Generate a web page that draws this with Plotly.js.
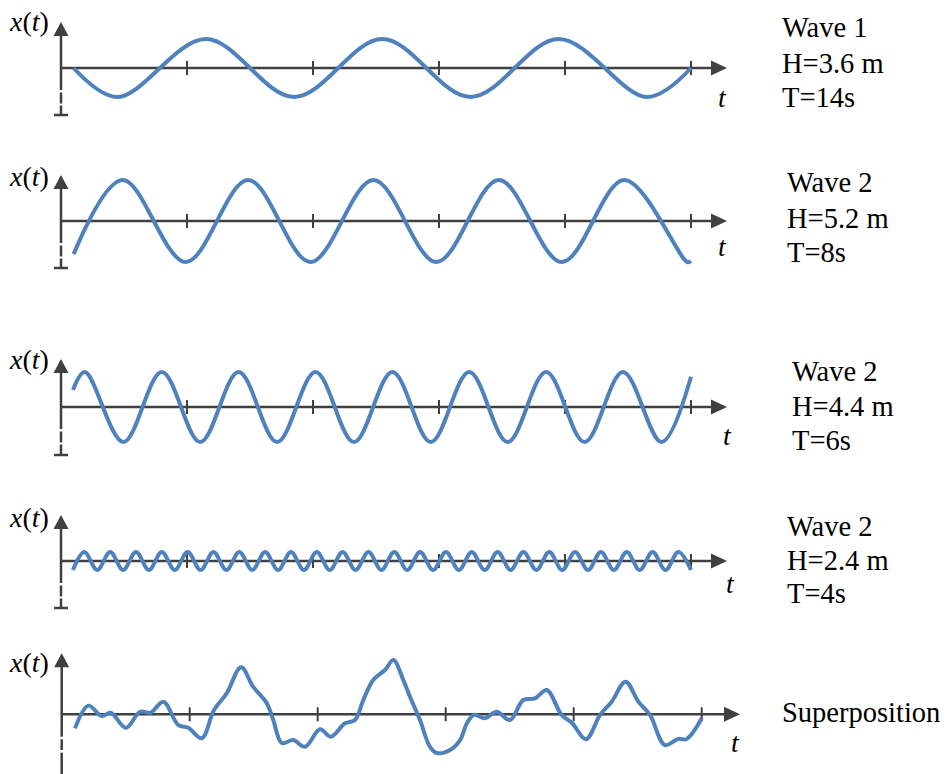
<!DOCTYPE html>
<html>
<head>
<meta charset="utf-8">
<script src="https://cdn.plot.ly/plotly-3.0.1.min.js"></script>
<style>
  html, body { margin: 0; padding: 0; background: #fff; }
  #chart { width: 952px; height: 774px; }
</style>
</head>
<body>
<div id="chart"></div>
<script>
// ---- Wave records: time (s) and surface elevation x(t) (m) at crests, troughs and ends ----
const wave1T = [1, 4.5, 11.5, 18.5, 25.5, 32.5, 39.5, 46.5, 50];
const wave1X = [0, -1.8, 1.8, -1.8, 1.8, -1.8, 1.8, -1.8, 0];

const wave2T = [1, 4.9, 9.9, 14.85, 19.8, 24.8, 29.8, 34.75, 39.75, 44.7, 49.7, 50];
const wave2X = [-2.1, 2.6, -2.6, 2.6, -2.6, 2.6, -2.6, 2.6, -2.6, 2.6, -2.6, -2.55];

const wave3T = [0.95, 1.9, 4.95, 8.0, 11.05, 14.1, 17.15, 20.2, 23.25, 26.3, 29.35, 32.4,
                35.45, 38.5, 41.55, 44.6, 47.65, 50];
const wave3X = [1.07, 2.2, -2.2, 2.2, -2.2, 2.2, -2.2, 2.2, -2.2, 2.2, -2.2, 2.2,
                -2.2, 2.2, -2.2, 2.2, -2.2, 1.9];

const wave4T = [0.95, 1.85, 2.88, 3.9, 4.93, 5.95, 6.98, 8.0, 9.03, 10.05, 11.08, 12.1,
                13.13, 14.15, 15.18, 16.2, 17.23, 18.25, 19.28, 20.3, 21.33, 22.35, 23.38, 24.4,
                25.43, 26.45, 27.48, 28.5, 29.53, 30.55, 31.58, 32.6, 33.63, 34.65, 35.68, 36.7,
                37.73, 38.75, 39.78, 40.8, 41.83, 42.85, 43.88, 44.9, 45.93, 46.95, 47.98, 49.0, 50.0];
const wave4X = [-1.2, 1.2, -1.2, 1.2, -1.2, 1.2, -1.2, 1.2, -1.2, 1.2, -1.2, 1.2,
                -1.2, 1.2, -1.2, 1.2, -1.2, 1.2, -1.2, 1.2, -1.2, 1.2, -1.2, 1.2,
                -1.2, 1.2, -1.2, 1.2, -1.2, 1.2, -1.2, 1.2, -1.2, 1.2, -1.2, 1.2,
                -1.2, 1.2, -1.2, 1.2, -1.2, 1.2, -1.2, 1.2, -1.2, 1.2, -1.2, 1.2, -1.2];

// Superposed record
const superT = [1.04, 2.08, 3.13, 3.83, 5.02, 6.12, 6.95, 7.94, 9.11, 9.89, 10.94, 11.90,
                12.89, 14.01, 14.95, 16.02, 16.53, 17.19, 18.09, 19.01, 20.18, 21.02, 22.13, 22.91,
                23.56, 24.34, 25.26, 25.91, 26.69, 27.21, 27.99, 28.77, 29.32, 30.34, 31.12, 31.66,
                32.21, 33.07, 33.98, 35.02, 36.06, 36.98, 37.89, 39.06, 39.87, 40.96, 42.06, 42.97,
                44.05, 45.05, 45.96, 47.12, 48.17, 48.83, 50.00];
const superX = [-0.88, 0.54, -0.11, 0.10, -0.84, 0.16, 0.10, 0.79, -0.67, -0.84, -1.50, 0.27,
                1.31, 2.94, 1.73, 0.69, -0.36, -1.79, -1.61, -2.03, -0.94, -1.40, -0.56, -0.36,
                0.89, 2.14, 2.77, 3.39, 2.14, 1.10, -0.36, -2.03, -2.42, -2.23, -1.61, -0.56,
                -0.04, -0.25, 0.16, -0.36, 0.89, 1.00, 1.52, -0.04, -0.54, -1.56, -0.04, 0.79,
                2.04, 0.79, -0.04, -1.92, -1.54, -1.54, -0.25];

// Time-axis tick positions (s)
const tickTimes = [10, 20, 30, 40, 50];

// Panel captions
const waveNames   = ["Wave 1", "Wave 2", "Wave 2", "Wave 2"];
const waveHeights = ["H=3.6 m", "H=5.2 m", "H=4.4 m", "H=2.4 m"];
const wavePeriods = ["T=14s", "T=8s", "T=6s", "T=4s"];
const superLabel  = "Superposition";
const yLabel = "<i>x</i>(<i>t</i>)";
const tLabel = "<i>t</i>";

// ---- Geometry ----
const W = 952, H = 774;
const SERIF = "Liberation Serif, Times New Roman, serif";
const AXIS_COLOR = "#404040";
const WAVE_COLOR = "#4f81bd";

// origin pixel, px per second, arrow tip pixel for the two time axes
const xAxes = {
  x:  { origin: 61,   pps: 12.6, tip: 727 },
  x2: { origin: 61.7, pps: 12.8, tip: 740 }
};

// per panel: time axis, zero-line pixel, px per metre, arrow height above zero,
// vertical axis pieces (pixels relative to the zero line), end bar, label spots
const panels = [
  { xa: 'x',  ya: 'y',  zero: 68,    ppm: 16.1,  up: 46, segs: [[-22, 33], [-24.5, -35.5], [-37.5, -47]], bar: -47,
    t: wave1T, v: wave1X, tLab: [722, 98],  yLab: [29, 21],  capX: 780, capY: [28, 63, 98] },
  { xa: 'x',  ya: 'y2', zero: 221,   ppm: 15.77, up: 46, segs: [[-22, 33], [-24.5, -35.5], [-37.5, -47]], bar: -47,
    t: wave2T, v: wave2X, tLab: [722, 246], yLab: [29, 177], capX: 785, capY: [183, 218, 252] },
  { xa: 'x',  ya: 'y3', zero: 407,   ppm: 15.91, up: 48, segs: [[-22, 35], [-24.5, -35.5], [-37.5, -48]], bar: -48,
    t: wave3T, v: wave3X, tLab: [727, 435], yLab: [29, 360], capX: 790, capY: [371, 406, 440] },
  { xa: 'x',  ya: 'y4', zero: 561,   ppm: 7.5,   up: 46, segs: [[-22, 33], [-24.5, -35.5], [-37.5, -47]], bar: -47,
    t: wave4T, v: wave4X, tLab: [730, 583], yLab: [29, 517], capX: 785, capY: [526, 560, 593] },
  { xa: 'x2', ya: 'y5', zero: 714.3, ppm: 16,    up: 61, segs: [[-22.4, 48], [-25, -35.7], [-38.4, -62]], bar: null,
    t: superT, v: superX, tLab: [735, 742], yLab: [29, 662], capX: 780, capY: [712] }
];

const traces = [];
const shapes = [];
const annotations = [];
const layout = {
  width: W, height: H, autosize: false,
  margin: { l: 0, r: 0, t: 0, b: 0, pad: 0 },
  paper_bgcolor: '#ffffff', plot_bgcolor: '#ffffff',
  showlegend: false, hovermode: false,
  font: { family: SERIF, color: '#000' }
};

// time axes
Object.keys(xAxes).forEach((k, i) => {
  const a = xAxes[k];
  const key = i === 0 ? 'xaxis' : 'xaxis2';
  layout[key] = {
    domain: [0, 1], range: [-a.origin / a.pps, (W - a.origin) / a.pps],
    visible: false, fixedrange: true
  };
  if (i > 0) { layout[key].overlaying = 'x'; layout[key].anchor = 'y5'; }
});

const line = (extra) => Object.assign({ type: 'line', layer: 'below',
  line: { color: AXIS_COLOR, width: 2.5 } }, extra);

panels.forEach((p, i) => {
  const yKey = i === 0 ? 'yaxis' : 'yaxis' + (i + 1);
  layout[yKey] = {
    domain: [0, 1], range: [-(H - p.zero) / p.ppm, p.zero / p.ppm],
    visible: false, fixedrange: true, anchor: p.xa
  };
  if (i > 0) layout[yKey].overlaying = 'y';

  const ax = xAxes[p.xa];
  const tipT = (ax.tip - ax.origin) / ax.pps;

  traces.push({
    type: 'scatter', mode: 'lines', x: p.t, y: p.v, xaxis: p.xa, yaxis: p.ya,
    line: { color: WAVE_COLOR, width: 4, shape: 'spline', smoothing: 1 },
    hoverinfo: 'skip', showlegend: false
  });

  // time axis with arrow
  shapes.push(line({ xref: p.xa, yref: p.ya, x0: 0, x1: tipT - 14 / ax.pps, y0: 0, y1: 0 }));
  shapes.push({ type: 'path', layer: 'below', xref: p.xa, yref: p.ya,
    xsizemode: 'pixel', ysizemode: 'pixel', xanchor: tipT, yanchor: 0,
    path: 'M0,0 L-16,7.5 L-16,-7.5 Z', fillcolor: AXIS_COLOR, line: { width: 0 } });

  // value axis pieces and arrow
  p.segs.forEach(s => shapes.push(line({ xref: p.xa, yref: p.ya, x0: 0, x1: 0,
    ysizemode: 'pixel', yanchor: 0, y0: s[0], y1: s[1] })));
  shapes.push({ type: 'path', layer: 'below', xref: p.xa, yref: p.ya,
    xsizemode: 'pixel', ysizemode: 'pixel', xanchor: 0, yanchor: 0,
    path: `M0,${p.up} L-7.5,${p.up - 14} L7.5,${p.up - 14} Z`,
    fillcolor: AXIS_COLOR, line: { width: 0 } });
  if (p.bar !== null) {
    shapes.push(line({ xref: p.xa, yref: p.ya, xsizemode: 'pixel', xanchor: 0, x0: -7, x1: 7,
      ysizemode: 'pixel', yanchor: 0, y0: p.bar, y1: p.bar }));
  }

  // ticks
  tickTimes.forEach(t => shapes.push(line({ xref: p.xa, yref: p.ya, x0: t, x1: t,
    ysizemode: 'pixel', yanchor: 0, y0: -7, y1: 7, line: { color: AXIS_COLOR, width: 2 } })));

  // axis labels
  const txt = (text, px, py, xanchor, size) => ({
    text, xref: 'paper', yref: 'paper', x: px / W, y: 1 - py / H,
    xanchor, yanchor: 'middle', showarrow: false,
    font: { family: SERIF, size, color: '#000' }
  });
  annotations.push(txt(yLabel, p.yLab[0], p.yLab[1], 'center', 28));
  annotations.push(txt(tLabel, p.tLab[0], p.tLab[1], 'center', 28));

  // captions
  const lines = i < 4 ? [waveNames[i], waveHeights[i], wavePeriods[i]] : [superLabel];
  lines.forEach((s, j) => annotations.push(txt(s, p.capX, p.capY[j], 'left', 28.5)));
});

layout.shapes = shapes;
layout.annotations = annotations;

Plotly.newPlot('chart', traces, layout, { staticPlot: true, displayModeBar: false });
</script>
</body>
</html>
